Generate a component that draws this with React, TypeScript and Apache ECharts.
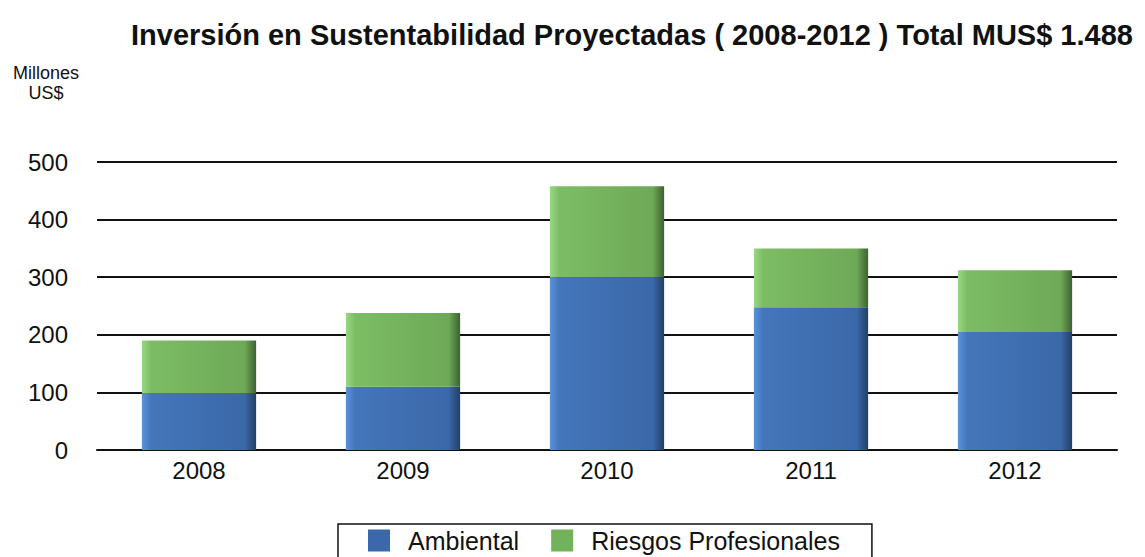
import React, { useEffect, useRef } from "react";
import * as echarts from "echarts";

const categories = ["2008", "2009", "2010", "2011", "2012"];
const ambiental = [98, 110, 300, 248, 205];
const riesgos = [92, 128, 158, 102, 107];
const yTicks = { min: 0, max: 500, interval: 100 };

const FONT = "Liberation Sans, Arial, sans-serif";

function grad(c0: string, c1: string, c2: string, c3: string) {
  return new echarts.graphic.LinearGradient(0, 0, 1, 0, [
    { offset: 0, color: c0 },
    { offset: 0.08, color: c1 },
    { offset: 0.9, color: c2 },
    { offset: 1, color: c3 },
  ]);
}

export default function App() {
  const ref = useRef<HTMLDivElement>(null);
  useEffect(() => {
    document.body.style.margin = "0";
    const chart = echarts.init(ref.current!, null, { renderer: "svg" });
    chart.setOption({
      animation: false,
      backgroundColor: "#ffffff",
      title: {
        text: "Inversión en Sustentabilidad Proyectadas ( 2008-2012 ) Total MUS$ 1.488",
        left: 126,
        top: 15,
        textStyle: {
          fontFamily: FONT,
          fontWeight: "bold",
          fontSize: 29,
          color: "#111",
        },
      },
      graphic: [
        {
          type: "text",
          x: 46,
          y: 63,
          style: {
            text: "Millones\nUS$",
            textAlign: "center",
            font: "18px " + FONT,
            fill: "#111",
            lineHeight: 20,
          },
        },
      ],
      legend: {
        left: 338,
        top: 524,
        borderColor: "#111",
        borderWidth: 1.5,
        padding: [3, 32, 8, 30],
        itemWidth: 22,
        itemHeight: 22,
        itemGap: 32,
        textStyle: {
          fontFamily: FONT,
          fontSize: 25,
          lineHeight: 27,
          color: "#111",
          padding: [0, 0, 0, 13],
        },
        data: [
          { name: "Ambiental", icon: "rect", itemStyle: { color: "#3a68ab" } },
          { name: "Riesgos Profesionales", icon: "rect", itemStyle: { color: "#72b25a" } },
        ],
      },
      grid: { left: 97, right: 28, top: 162, bottom: 107 },
      xAxis: {
        type: "category",
        data: categories,
        axisLine: { lineStyle: { color: "#111", width: 2 } },
        axisTick: { show: false },
        axisLabel: {
          fontFamily: FONT,
          fontSize: 24,
          color: "#111",
          margin: 8,
        },
      },
      yAxis: {
        type: "value",
        min: yTicks.min,
        max: yTicks.max,
        interval: yTicks.interval,
        axisLine: { show: false },
        axisTick: { show: false },
        splitLine: { lineStyle: { color: "#111", width: 2 } },
        axisLabel: {
          fontFamily: FONT,
          fontSize: 24,
          color: "#111",
          margin: 29,
        },
      },
      series: [
        {
          name: "Ambiental",
          type: "bar",
          stack: "total",
          barWidth: "56%",
          data: ambiental,
          itemStyle: {
            color: grad("#5b92db", "#4476bb", "#3b68a8", "#223f68"),
          },
        },
        {
          name: "Riesgos Profesionales",
          type: "bar",
          stack: "total",
          barWidth: "56%",
          data: riesgos,
          itemStyle: {
            color: grad("#98d884", "#7cbd64", "#6ea957", "#3d6232"),
          },
        },
      ],
    });
    return () => chart.dispose();
  }, []);
  return (
    <div
      ref={ref}
      style={{ position: "absolute", left: 0, top: 0, width: 1145, height: 557, overflow: "hidden" }}
    />
  );
}
